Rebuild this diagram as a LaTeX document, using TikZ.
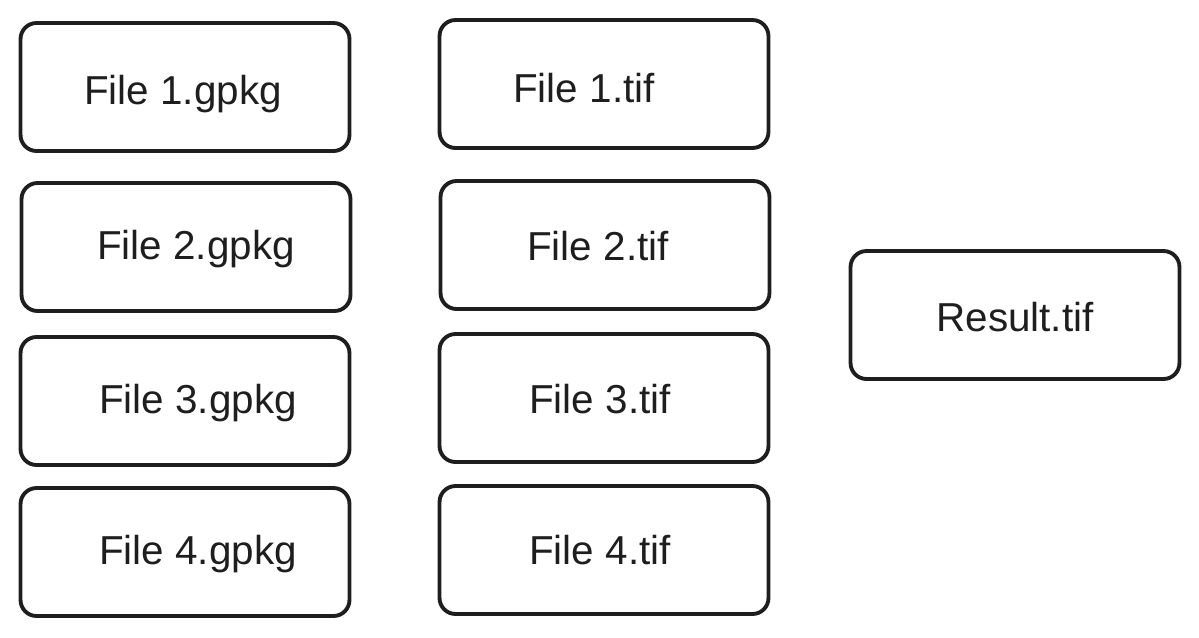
\documentclass[tikz,border=0pt]{standalone}
\usepackage{fontspec}
\setmainfont{Liberation Sans}
\usepackage{tikz}
\usepackage{xcolor}

\definecolor{inkgray}{HTML}{1E1E1E}

\tikzset{
  filebox/.style={draw=inkgray,line width=2.2pt,rounded corners=0.32cm,
    minimum width=6.58cm,minimum height=2.56cm,inner sep=0pt},
  filename/.style={text=inkgray,font=\fontsize{23}{27}\selectfont}
}

\begin{document}
\begin{tikzpicture}[x=0.02cm,y=-0.02cm]
\useasboundingbox (0,0) rectangle (1199,637);
% gpkg inputs
\node[filebox] (gpkgA) at (185,87) {};
\node[filebox] (gpkgB) at (186,247) {};
\node[filebox] (gpkgC) at (185,401) {};
\node[filebox] (gpkgD) at (185,552) {};
\node[filename] (gpkgAtext) at (183,94) {File 1.gpkg};
\node[filename] (gpkgBtext) at (196,249) {File 2.gpkg};
\node[filename] (gpkgCtext) at (198,403) {File 3.gpkg};
\node[filename] (gpkgDtext) at (198,554) {File 4.gpkg};
% tif rasters
\node[filebox] (tifA) at (604,84) {};
\node[filebox] (tifB) at (605,245) {};
\node[filebox] (tifC) at (604,398) {};
\node[filebox] (tifD) at (604,550) {};
\node[filename] (tifAtext) at (584,88) {File 1.tif};
\node[filename] (tifBtext) at (598,246) {File 2.tif};
\node[filename] (tifCtext) at (600,399) {File 3.tif};
\node[filename] (tifDtext) at (600,550) {File 4.tif};
% merged output
\node[filebox] (result) at (1015,315) {};
\node[filename] (resulttext) at (1015,317) {Result.tif};
\end{tikzpicture}
\end{document}
